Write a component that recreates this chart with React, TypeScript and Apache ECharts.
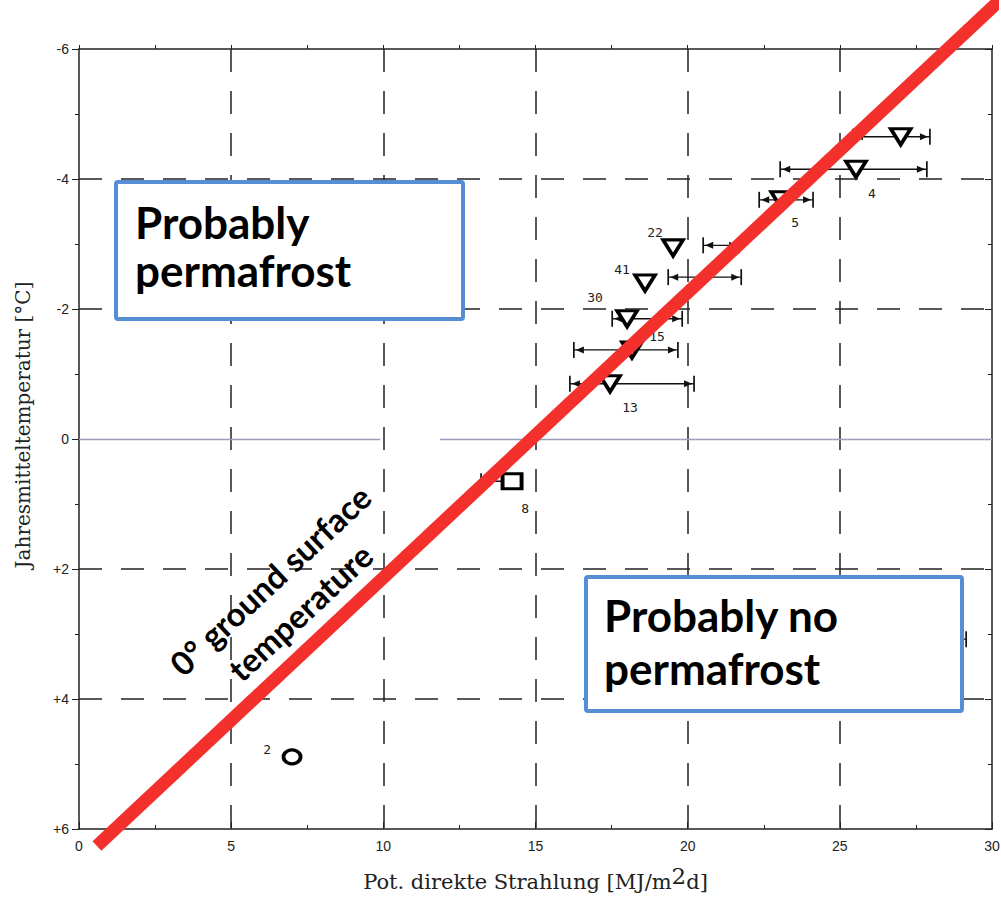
import React, { useEffect, useRef } from "react";
import * as echarts from "echarts";

// ---- data ----
const xAxisMin = 0;
const xAxisMax = 30;
const xAxisStep = 5;
const yAxisMin = -6;
const yAxisMax = 6;
const yAxisStep = 2;

// inverted triangles (measured stations)
const triangleX = [27.0, 25.53, 23.07, 19.52, 18.6, 18.01, 18.17, 17.45];
const triangleY = [-4.65, -4.15, -3.68, -2.94, -2.4, -1.85, -1.37, -0.85];
const triangleLabels = ["", "4", "5", "22", "41", "30", "15", "13"];

// square station
const squareX = [14.23];
const squareY = [0.65];
const squareLabels = ["8"];

// circle station
const circleX = [7.0];
const circleY = [4.89];
const circleLabels = ["2"];

// horizontal range bars
const rangeY = [-4.65, -4.15, -3.68, -2.98, -2.49, -1.85, -1.37, -0.85, 0.65, 3.08];
const rangeLo = [25.43, 23.04, 22.35, 20.51, 19.36, 17.52, 16.26, 16.13, 13.21, 26.0];
const rangeHi = [27.96, 27.86, 24.12, 21.69, 21.76, 19.82, 19.68, 20.21, 14.5, 29.15];

// 0 °C ground-surface-temperature line (end points)
const boundaryX = [0.59, 30.6];
const boundaryY = [6.26, -6.9];

// zero line pieces
const zeroSegStart = [0, 11.86];
const zeroSegEnd = [9.9, 30];

// dashed grid
const gridX = [5, 10, 15, 20, 25];
const gridY = [-4, -2, 2, 4];

// label offsets (px) relative to the marker
const labelOffsets: Record<string, [number, number]> = {
  "4": [16, 24],
  "5": [14, 23],
  "22": [-18, -15],
  "41": [-23, -14],
  "30": [-32, -21],
  "15": [25, -13],
  "13": [20, 24],
  "8": [13, 27],
  "2": [-25, -7],
};

const labelStyle = (name: string) => ({
  show: name !== "",
  formatter: "{b}",
  position: "inside" as const,
  offset: labelOffsets[name] || [0, 0],
  fontFamily: "DejaVu Sans Mono",
  fontSize: 13,
  color: "#222",
});

function pointData(xs: number[], ys: number[], names: string[]) {
  return xs.map((x, i) => ({
    value: [x, ys[i]],
    name: names[i],
    label: labelStyle(names[i]),
  }));
}

export default function App() {
  const ref = useRef<HTMLDivElement>(null);

  useEffect(() => {
    if (!ref.current) return;
    const chart = echarts.init(ref.current, undefined, { renderer: "svg" });

    const axisLine = { show: true, onZero: false, lineStyle: { color: "#222", width: 1.5 } };
    const tickLabelFont = {
      fontFamily: "Liberation Sans",
      fontSize: 14,
      color: "#222",
    };

    const option: any = {
      animation: false,
      backgroundColor: "#fff",
      grid: {
        left: 79,
        top: 49,
        width: 913,
        height: 780,
        containLabel: false,
        outerBoundsMode: "none",
      },
      xAxis: [
        {
          type: "value",
          position: "bottom",
          min: xAxisMin,
          max: xAxisMax,
          interval: xAxisStep,
          axisLine,
          axisTick: { show: true, inside: true, length: 7, lineStyle: { color: "#222" } },
          minorTick: { show: true, splitNumber: 2, length: 4, lineStyle: { color: "#222" } },
          splitLine: { show: false },
          axisLabel: { margin: 10, ...tickLabelFont },
          name: "Pot. direkte Strahlung [MJ/m{sup|2}d]",
          nameLocation: "middle",
          nameGap: 35,
          nameTextStyle: {
            fontFamily: "DejaVu Serif",
            fontSize: 21,
            color: "#222",
            rich: {
              sup: {
                fontFamily: "DejaVu Serif",
                fontSize: 23,
                color: "#222",
                padding: [0, 0, 12, 0],
              },
            },
          },
        },
        {
          type: "value",
          position: "top",
          min: xAxisMin,
          max: xAxisMax,
          interval: xAxisStep,
          axisLine,
          axisTick: { show: true, inside: false, length: 4, lineStyle: { color: "#222" } },
          minorTick: { show: true, splitNumber: 2, length: 4, lineStyle: { color: "#222" } },
          splitLine: { show: false },
          axisLabel: { show: false },
        },
      ],
      yAxis: [
        {
          type: "value",
          position: "left",
          inverse: true,
          min: yAxisMin,
          max: yAxisMax,
          interval: yAxisStep,
          axisLine,
          axisTick: { show: true, inside: false, length: 7, lineStyle: { color: "#222" } },
          minorTick: { show: true, splitNumber: 2, length: 4, lineStyle: { color: "#222" } },
          splitLine: { show: false },
          axisLabel: {
            margin: 10,
            ...tickLabelFont,
            formatter: (v: number) => (v > 0 ? "+" + v : String(v)),
          },
          name: "Jahresmitteltemperatur [°C]",
          nameLocation: "middle",
          nameGap: 46,
          nameRotate: 90,
          nameTextStyle: {
            fontFamily: "DejaVu Serif",
            fontSize: 20,
            color: "#222",
            padding: [0, 0, 0, 28],
          },
        },
        {
          type: "value",
          position: "right",
          inverse: true,
          min: yAxisMin,
          max: yAxisMax,
          interval: yAxisStep,
          axisLine,
          axisTick: { show: true, inside: true, length: 7, lineStyle: { color: "#222" } },
          minorTick: { show: true, splitNumber: 2, length: 4, lineStyle: { color: "#222" } },
          splitLine: { show: false },
          axisLabel: { show: false },
        },
      ],
      series: [
        // zero line pieces + dashed grid as markLines
        {
          type: "line",
          data: [],
          symbol: "none",
          silent: true,
          z: 1,
          markLine: {
            silent: true,
            symbol: "none",
            label: { show: false },
            lineStyle: { color: "#222", width: 1.5, type: [23, 19] },
            data: [
              ...gridX.map((v) => ({ xAxis: v })),
              ...gridY.map((v) => ({ yAxis: v })),
              ...zeroSegStart.map((s, i) => [
                { coord: [s, 0], lineStyle: { color: "#9c9cbc", width: 1.4, type: "solid" } },
                { coord: [zeroSegEnd[i], 0] },
              ]),
            ],
          },
        },
        // range bars
        {
          type: "custom",
          z: 3,
          silent: true,
          data: rangeY.map((y, i) => [rangeLo[i], y, rangeHi[i]]),
          encode: { x: 0, y: 1 },
          renderItem: (_params: any, api: any) => {
            const lo = api.value(0);
            const y = api.value(1);
            const hi = api.value(2);
            const p1 = api.coord([lo, y]);
            const p2 = api.coord([hi, y]);
            const h = 8;
            const thin = { stroke: "#111", lineWidth: 1.3 };
            const cap = { stroke: "#111", lineWidth: 1.7 };
            return {
              type: "group",
              children: [
                { type: "line", shape: { x1: p1[0], y1: p1[1], x2: p2[0], y2: p2[1] }, style: thin },
                { type: "line", shape: { x1: p1[0], y1: p1[1] - h, x2: p1[0], y2: p1[1] + h }, style: cap },
                { type: "line", shape: { x1: p2[0], y1: p2[1] - h, x2: p2[0], y2: p2[1] + h }, style: cap },
                {
                  type: "polygon",
                  shape: { points: [[p1[0] + 2, p1[1]], [p1[0] + 10, p1[1] - 3.5], [p1[0] + 10, p1[1] + 3.5]] },
                  style: { fill: "#111" },
                },
                {
                  type: "polygon",
                  shape: { points: [[p2[0] - 2, p2[1]], [p2[0] - 10, p2[1] - 3.5], [p2[0] - 10, p2[1] + 3.5]] },
                  style: { fill: "#111" },
                },
              ],
            };
          },
        },
        // triangles
        {
          type: "scatter",
          z: 4,
          symbol: "triangle",
          symbolRotate: 180,
          symbolSize: [20, 16],
          itemStyle: { color: "#fff", borderColor: "#000", borderWidth: 3.5, opacity: 1 },
          data: pointData(triangleX, triangleY, triangleLabels),
        },
        // square
        {
          type: "scatter",
          z: 4,
          symbol: "rect",
          symbolSize: [19, 15],
          itemStyle: { color: "#fff", borderColor: "#000", borderWidth: 3.5, opacity: 1 },
          data: pointData(squareX, squareY, squareLabels),
        },
        // circle
        {
          type: "scatter",
          z: 4,
          symbol: "circle",
          symbolSize: [17, 14],
          itemStyle: { color: "#fff", borderColor: "#000", borderWidth: 3.5, opacity: 1 },
          data: pointData(circleX, circleY, circleLabels),
        },
        // red 0 °C line
        {
          type: "line",
          z: 8,
          clip: false,
          silent: true,
          symbol: "none",
          data: boundaryX.map((x, i) => [x, boundaryY[i]]),
          lineStyle: { color: "#F3302B", width: 13, cap: "butt" },
        },
      ],
      graphic: [
        {
          type: "rect",
          z: 100,
          shape: { x: 116, y: 182, width: 347, height: 137, r: 2 },
          style: { fill: "#fff", stroke: "#558ED5", lineWidth: 4 },
        },
        {
          type: "text",
          z: 101,
          x: 135,
          y: 222,
          style: {
            text: "Probably",
            fontFamily: "Lato",
            fontWeight: "bold",
            fontSize: 44,
            fill: "#000",
            verticalAlign: "middle",
          },
        },
        {
          type: "text",
          z: 101,
          x: 135,
          y: 270,
          style: {
            text: "permafrost",
            fontFamily: "Lato",
            fontWeight: "bold",
            fontSize: 44,
            fill: "#000",
            verticalAlign: "middle",
          },
        },
        {
          type: "rect",
          z: 100,
          shape: { x: 586, y: 577, width: 376, height: 134, r: 2 },
          style: { fill: "#fff", stroke: "#558ED5", lineWidth: 4 },
        },
        {
          type: "text",
          z: 101,
          x: 604,
          y: 615,
          style: {
            text: "Probably no",
            fontFamily: "Lato",
            fontWeight: "bold",
            fontSize: 44,
            fill: "#000",
            verticalAlign: "middle",
          },
        },
        {
          type: "text",
          z: 101,
          x: 604,
          y: 668,
          style: {
            text: "permafrost",
            fontFamily: "Lato",
            fontWeight: "bold",
            fontSize: 44,
            fill: "#000",
            verticalAlign: "middle",
          },
        },
        {
          type: "text",
          z: 101,
          x: 285,
          y: 596,
          rotation: (43 * Math.PI) / 180,
          style: {
            text: "0° ground surface\ntemperature",
            fontFamily: "Lato",
            fontWeight: "bold",
            fontSize: 33,
            lineHeight: 44,
            align: "center",
            verticalAlign: "middle",
            fill: "#000",
          },
        },
      ],
    };

    chart.setOption(option);
    return () => chart.dispose();
  }, []);

  return (
    <div
      ref={ref}
      style={{ position: "fixed", left: 0, top: 0, width: 1001, height: 898, background: "#fff" }}
    />
  );
}
